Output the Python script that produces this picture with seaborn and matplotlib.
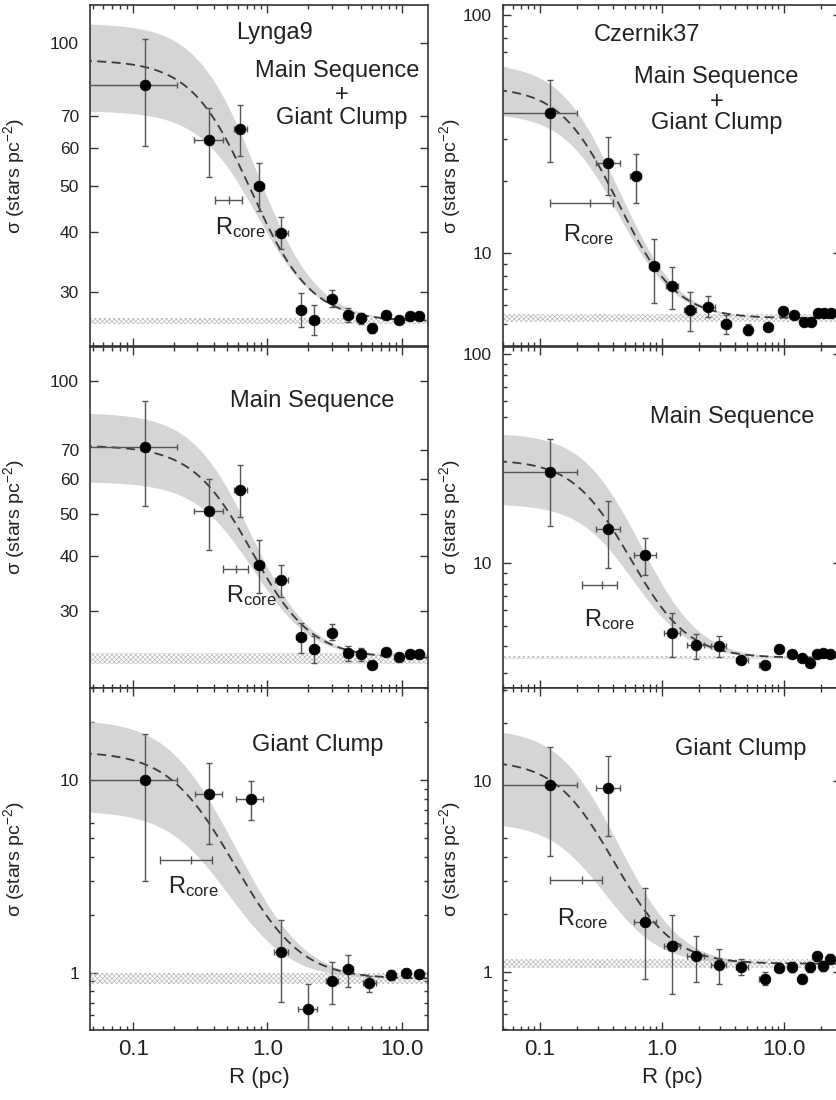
import numpy as np
import matplotlib
matplotlib.use("Agg")
import matplotlib.pyplot as plt
import matplotlib.ticker as mticker
import seaborn as sns

# ---------------- data ----------------
# Lynga 9: radial bins (pc) used for MS+GC and MS profiles
lyn_r = [0.122, 0.367, 0.62, 0.86, 1.26, 1.77, 2.24, 3.01, 4.01, 4.96, 6.05, 7.6, 9.57, 11.5, 13.5]
lyn_r_lo = [0.03, 0.284, 0.564, 0.795, 1.13, 1.63, 2.07, 2.77, 3.72, 4.65, 5.75, 7.25, 9.15, 11.0, 13.0]
lyn_r_hi = [0.21, 0.470, 0.709, 0.94, 1.42, 1.93, 2.40, 3.26, 4.32, 5.3, 6.4, 8.0, 10.0, 12.0, 14.0]

lyn_all_sig = [81.3, 62.6, 65.9, 49.9, 39.8, 27.4, 26.1, 28.9, 26.8, 26.4, 25.1, 26.8, 26.1, 26.7, 26.7]
lyn_all_lo = [60.8, 52.2, 57.7, 44.2, 36.8, 25.3, 24.3, 27.8, 25.9, 25.6, 24.6, 26.3, 25.6, 26.2, 26.2]
lyn_all_hi = [102.0, 72.8, 74.0, 56.0, 43.0, 29.8, 28.1, 30.3, 27.7, 27.0, 25.6, 27.3, 26.6, 27.2, 27.2]

lyn_ms_sig = [71.0, 50.7, 56.7, 38.3, 35.3, 26.3, 24.7, 26.8, 24.1, 24.0, 22.7, 24.3, 23.6, 24.0, 24.0]
lyn_ms_lo = [52.1, 41.3, 49.3, 33.0, 32.4, 24.1, 22.9, 25.9, 23.1, 23.2, 22.2, 23.8, 23.1, 23.5, 23.5]
lyn_ms_hi = [90.3, 60.0, 64.4, 43.6, 38.3, 28.2, 26.4, 28.1, 25.0, 24.8, 23.2, 24.8, 24.1, 24.5, 24.5]

lyn_gc_r = [0.122, 0.367, 0.75, 1.26, 1.99, 3.01, 4.01, 5.72, 8.3, 10.7, 13.5]
lyn_gc_r_lo = [0.03, 0.287, 0.581, 1.109, 1.70, 2.72, 3.68, 5.19, 7.9, 10.2, 13.0]
lyn_gc_r_hi = [0.21, 0.462, 0.918, 1.41, 2.33, 3.36, 4.37, 6.42, 8.8, 11.3, 14.0]
lyn_gc_sig = [10.0, 8.43, 8.0, 1.28, 0.646, 0.906, 1.04, 0.88, 0.97, 0.99, 0.98]
lyn_gc_lo = [2.98, 4.67, 6.16, 0.705, 0.45, 0.686, 0.84, 0.79, 0.92, 0.95, 0.94]
lyn_gc_hi = [17.3, 12.2, 9.9, 1.87, 0.87, 1.13, 1.24, 0.96, 1.03, 1.04, 1.03]

# Czernik 37
cz_all_r = [0.122, 0.364, 0.609, 0.86, 1.21, 1.71, 2.41, 3.36, 5.06, 7.37, 9.78, 12.2, 14.5, 16.7, 18.9, 21.4, 24.3]
cz_all_r_lo = [0.03, 0.29, 0.544, 0.783, 1.085, 1.53, 2.17, 3.06, 4.7, 6.9, 9.3, 11.7, 14.0, 16.2, 18.4, 20.9, 23.7]
cz_all_r_hi = [0.20, 0.456, 0.677, 0.945, 1.35, 1.91, 2.70, 3.70, 5.4, 7.9, 10.3, 12.7, 15.0, 17.2, 19.4, 21.9, 24.9]
cz_all_sig = [38.7, 23.9, 21.0, 8.79, 7.24, 5.74, 5.93, 5.0, 4.74, 4.89, 5.69, 5.46, 5.09, 5.1, 5.6, 5.6, 5.57]
cz_all_lo = [24.0, 17.4, 16.2, 6.13, 5.82, 4.69, 5.34, 4.57, 4.5, 4.7, 5.5, 5.3, 4.95, 4.95, 5.45, 5.45, 5.42]
cz_all_hi = [53.0, 30.7, 25.9, 11.4, 8.7, 6.84, 6.58, 5.46, 5.0, 5.08, 5.88, 5.62, 5.23, 5.25, 5.75, 5.75, 5.72]

cz_r = [0.122, 0.364, 0.73, 1.21, 1.91, 2.93, 4.49, 6.95, 9.19, 11.6, 14.0, 16.4, 18.6, 21.0, 23.9]
cz_r_lo = [0.03, 0.29, 0.59, 1.05, 1.62, 2.53, 4.06, 6.3, 8.7, 11.1, 13.5, 15.9, 18.1, 20.5, 23.3]
cz_r_hi = [0.20, 0.456, 0.90, 1.40, 2.23, 3.36, 5.06, 7.6, 9.7, 12.1, 14.5, 16.9, 19.1, 21.5, 24.5]

cz_ms_sig = [27.3, 14.6, 10.9, 4.66, 4.06, 4.02, 3.44, 3.25, 3.88, 3.67, 3.54, 3.35, 3.67, 3.73, 3.67]
cz_ms_lo = [15.1, 9.46, 8.79, 3.56, 3.5, 3.56, 3.30, 3.12, 3.75, 3.55, 3.42, 3.24, 3.55, 3.6, 3.55]
cz_ms_hi = [39.5, 19.8, 13.2, 5.8, 4.58, 4.47, 3.58, 3.38, 4.0, 3.8, 3.66, 3.46, 3.8, 3.86, 3.8]

cz_gc_sig = [9.53, 9.15, 1.83, 1.37, 1.21, 1.08, 1.06, 0.92, 1.05, 1.06, 0.92, 1.06, 1.20, 1.07, 1.17]
cz_gc_lo = [4.02, 5.16, 0.92, 0.76, 0.88, 0.86, 0.96, 0.85, 0.99, 1.0, 0.87, 1.0, 1.14, 1.01, 1.11]
cz_gc_hi = [15.1, 13.5, 2.75, 1.99, 1.54, 1.31, 1.17, 0.99, 1.11, 1.12, 0.97, 1.12, 1.26, 1.13, 1.23]

# King-profile fits: background, central density, core radius
lyn_all_fit = [26.0, 66.0, 0.55]
lyn_ms_fit = [23.5, 48.0, 0.58]
lyn_gc_fit = [0.93, 13.1, 0.29]
cz_all_fit = [5.3, 44.4, 0.25]
cz_ms_fit = [3.53, 27.8, 0.32]
cz_gc_fit = [1.10, 11.7, 0.22]

# 1-sigma envelope: (sigma0 high, rc high, sigma0 low, rc low)
lyn_all_env = [84.0, 0.58, 46.0, 0.65]
lyn_ms_env = [61.5, 0.55, 35.7, 0.62]
lyn_gc_env = [19.7, 0.27, 6.0, 0.31]
cz_all_env = [57.4, 0.24, 33.4, 0.27]
cz_ms_env = [38.6, 0.36, 15.8, 0.38]
cz_gc_env = [17.7, 0.22, 4.96, 0.22]

# background level range
lyn_all_bg = [25.6, 26.4]
lyn_ms_bg = [22.8, 24.2]
lyn_gc_bg = [0.87, 1.0]
cz_all_bg = [5.12, 5.51]
cz_ms_bg = [3.48, 3.58]
cz_gc_bg = [1.04, 1.17]

# core radius with error: low, value, high, drawn at sigma level
lyn_all_core = [0.405, 0.518, 0.651, 46.8]
lyn_ms_core = [0.47, 0.58, 0.71, 37.5]
lyn_gc_core = [0.159, 0.268, 0.383, 3.86]
cz_all_core = [0.122, 0.259, 0.40, 16.1]
cz_ms_core = [0.223, 0.325, 0.428, 7.87]
cz_gc_core = [0.122, 0.221, 0.325, 3.01]

# ---------------- style ----------------
sns.set_theme(style="ticks")
plt.rcParams["font.family"] = ["Liberation Sans", "DejaVu Sans"]
plt.rcParams["mathtext.fontset"] = "custom"
plt.rcParams["mathtext.rm"] = "Liberation Sans"
plt.rcParams["mathtext.it"] = "Liberation Sans:italic"
plt.rcParams["mathtext.bf"] = "Liberation Sans:bold"
plt.rcParams["hatch.linewidth"] = 0.5
plt.rcParams["axes.edgecolor"] = "#333333"
plt.rcParams["axes.linewidth"] = 1.2

TXT = "#222222"


def king(r, bg, s0, rc):
    r = np.asarray(r)
    return bg + s0 / (1.0 + (r / rc) ** 2)


fig = plt.figure(figsize=(8.36, 11), dpi=100)
W, H = 836.0, 1100.0
col_left = [90 / W, 503 / W]
col_w = 338 / W
row_top = [5, 346.5, 688]
row_h = 341.5
xlims = [(0.0476, 15.7), (0.0498, 29.4)]


def panel(col, row, r, r_lo, r_hi, sig, lo, hi, fit, env, bg, core, ylim,
          ymajor, yminor, labels, core_txt):
    ax = fig.add_axes([col_left[col], 1 - (row_top[row] + row_h) / H, col_w, row_h / H])
    ax.set_xscale("log")
    ax.set_yscale("log")
    r = np.array(r)
    sig = np.array(sig)
    rg = np.logspace(np.log10(0.02), np.log10(40), 400)
    # uncertainty envelope of the fit
    ax.fill_between(rg, king(rg, fit[0], env[2], env[3]), king(rg, fit[0], env[0], env[1]),
                    color="#d5d5d5", lw=0, zorder=1)
    # background level
    ax.axhspan(bg[0], bg[1], facecolor="none", edgecolor="#bbbbbb", hatch="xxxxxxx",
               lw=0, zorder=2)
    sns.lineplot(x=rg, y=king(rg, *fit), ax=ax, color="#3a3a3a", lw=1.3,
                 linestyle=(0, (5, 3)), zorder=3)
    ax.errorbar(r, sig, xerr=[r - np.array(r_lo), np.array(r_hi) - r],
                yerr=[sig - np.array(lo), np.array(hi) - sig], fmt="none",
                ecolor="#555555", elinewidth=1.0, capsize=2, capthick=1.0, zorder=4)
    sns.scatterplot(x=r, y=sig, ax=ax, color="black", s=60, edgecolor="black",
                    linewidth=0.5, zorder=5, legend=False)
    # core radius marker
    ax.errorbar([core[1]], [core[3]], xerr=[[core[1] - core[0]], [core[2] - core[1]]],
                fmt="|", color="#555555", ms=6, mew=1.0, elinewidth=1.0, capsize=3,
                capthick=1.0, zorder=4)
    ax.text(core_txt[0], core_txt[1], r"R$_{\mathrm{core}}$", fontsize=17, color=TXT,
            va="top", ha="left", zorder=6)
    for t, x, y in labels:
        ax.text(x, y, t, transform=ax.transAxes, fontsize=17, color=TXT,
                ha="center", va="center", zorder=6)

    ax.set_xlim(*xlims[col])
    ax.set_ylim(*ylim)
    ax.xaxis.set_major_locator(mticker.FixedLocator([0.1, 1.0, 10.0]))
    ax.xaxis.set_minor_locator(mticker.LogLocator(base=10, subs=np.arange(2, 10)))
    ax.xaxis.set_major_formatter(mticker.FuncFormatter(lambda v, p: f"{v:.1f}"))
    ax.yaxis.set_major_locator(mticker.FixedLocator(ymajor))
    if yminor:
        ax.yaxis.set_minor_locator(mticker.LogLocator(base=10, subs=np.arange(2, 10)))
    else:
        ax.yaxis.set_minor_locator(mticker.NullLocator())
    ax.yaxis.set_major_formatter(mticker.FuncFormatter(lambda v, p: f"{v:g}"))
    ax.yaxis.set_minor_formatter(mticker.NullFormatter())
    ax.tick_params(which="both", direction="in", top=True, right=True,
                   color="#333333", width=1.0)
    ax.tick_params(which="major", length=6)
    ax.tick_params(which="minor", length=3)
    ax.tick_params(axis="y", labelsize=12.5, pad=8, labelcolor=TXT)
    ax.tick_params(axis="x", labelsize=16, pad=7, labelcolor=TXT)
    ax.set_ylabel(r"σ (stars pc$^{-2}$)", fontsize=14, color=TXT)
    ax.yaxis.set_label_coords(-0.186 if col == 0 else -0.118, 0.5)
    if row < 2:
        ax.tick_params(labelbottom=False)
        ax.set_xlabel("")
    else:
        ax.set_xlabel("R (pc)", fontsize=16, color=TXT, labelpad=5)
    for s in ax.spines.values():
        s.set_visible(True)
    return ax


panel(0, 0, lyn_r, lyn_r_lo, lyn_r_hi, lyn_all_sig, lyn_all_lo, lyn_all_hi,
      lyn_all_fit, lyn_all_env, lyn_all_bg, lyn_all_core, (23.0, 120.0),
      [30, 40, 50, 60, 70, 100], False,
      [("Lynga9", 0.547, 0.918), ("Main Sequence", 0.73, 0.808), ("+", 0.745, 0.735),
       ("Giant Clump", 0.745, 0.668)], (0.405, 43.5))
panel(0, 1, lyn_r, lyn_r_lo, lyn_r_hi, lyn_ms_sig, lyn_ms_lo, lyn_ms_hi,
      lyn_ms_fit, lyn_ms_env, lyn_ms_bg, lyn_ms_core, (20.1, 120.0),
      [30, 40, 50, 60, 70, 100], False,
      [("Main Sequence", 0.656, 0.839)], (0.489, 34.8))
panel(0, 2, lyn_gc_r, lyn_gc_r_lo, lyn_gc_r_hi, lyn_gc_sig, lyn_gc_lo, lyn_gc_hi,
      lyn_gc_fit, lyn_gc_env, lyn_gc_bg, lyn_gc_core, (0.507, 30.0),
      [1, 10], True,
      [("Giant Clump", 0.675, 0.833)], (0.180, 3.23))
panel(1, 0, cz_all_r, cz_all_r_lo, cz_all_r_hi, cz_all_sig, cz_all_lo, cz_all_hi,
      cz_all_fit, cz_all_env, cz_all_bg, cz_all_core, (4.03, 110.0),
      [10, 100], True,
      [("Czernik37", 0.425, 0.912), ("Main Sequence", 0.632, 0.79), ("+", 0.632, 0.717),
       ("Giant Clump", 0.632, 0.654)], (0.155, 13.4))
panel(1, 1, cz_r, cz_r_lo, cz_r_hi, cz_ms_sig, cz_ms_lo, cz_ms_hi,
      cz_ms_fit, cz_ms_env, cz_ms_bg, cz_ms_core, (2.53, 109.0),
      [10, 100], True,
      [("Main Sequence", 0.678, 0.795)], (0.229, 6.15))
panel(1, 2, cz_r, cz_r_lo, cz_r_hi, cz_gc_sig, cz_gc_lo, cz_gc_hi,
      cz_gc_fit, cz_gc_env, cz_gc_bg, cz_gc_core, (0.497, 30.7),
      [1, 10], True,
      [("Giant Clump", 0.704, 0.822)], (0.137, 2.2))

fig.savefig("out.png", dpi=100)
